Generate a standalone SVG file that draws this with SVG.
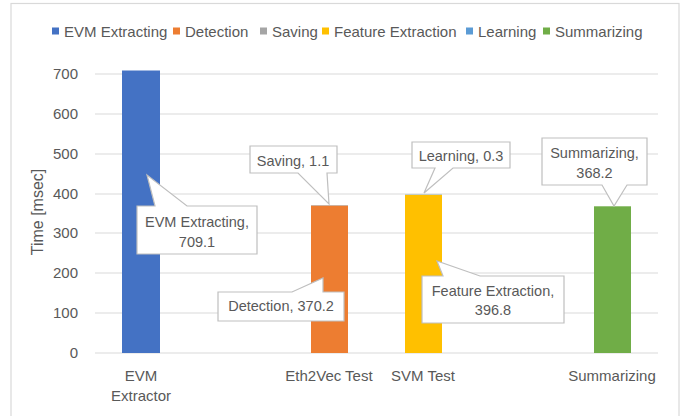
<svg xmlns="http://www.w3.org/2000/svg" width="687" height="416" viewBox="0 0 687 416">
<style>
text{font-family:"Liberation Sans",Arial,sans-serif;fill:#595959;}
.lg{font-size:15px;}
.tk{font-size:15px;text-anchor:end;}
.cat{font-size:15px;text-anchor:middle;}
.lbl{font-size:14.5px;text-anchor:middle;}
.grid{stroke:#d9d9d9;stroke-width:1;}
.co{fill:#ffffff;stroke:#bfbfbf;stroke-width:1.2;stroke-linejoin:miter;}
</style>
<rect x="0" y="0" width="687" height="416" fill="#ffffff"/>
<rect x="11" y="3.5" width="668" height="420" fill="#ffffff" stroke="#d9d9d9" stroke-width="1.2"/>
<g id="legend">
<rect x="52" y="27.5" width="7" height="7" fill="#4472c4"/><text class="lg" x="64" y="36.5">EVM Extracting</text>
<rect x="173" y="27.5" width="7" height="7" fill="#ed7d31"/><text class="lg" x="185" y="36.5">Detection</text>
<rect x="260" y="27.5" width="7" height="7" fill="#a5a5a5"/><text class="lg" x="272" y="36.5">Saving</text>
<rect x="322" y="27.5" width="7" height="7" fill="#ffc000"/><text class="lg" x="334" y="36.5">Feature Extraction</text>
<rect x="466" y="27.5" width="7" height="7" fill="#5b9bd5"/><text class="lg" x="478" y="36.5">Learning</text>
<rect x="543" y="27.5" width="7" height="7" fill="#70ad47"/><text class="lg" x="555" y="36.5">Summarizing</text>
</g>
<g id="grid">
<line class="grid" x1="95" y1="74" x2="658" y2="74"/>
<line class="grid" x1="95" y1="114" x2="658" y2="114"/>
<line class="grid" x1="95" y1="154" x2="658" y2="154"/>
<line class="grid" x1="95" y1="194" x2="658" y2="194"/>
<line class="grid" x1="95" y1="233" x2="658" y2="233"/>
<line class="grid" x1="95" y1="273" x2="658" y2="273"/>
<line class="grid" x1="95" y1="313" x2="658" y2="313"/>
<line class="grid" x1="95" y1="353" x2="658" y2="353"/>
</g>
<g id="axis">
<text class="tk" x="78" y="79">700</text>
<text class="tk" x="78" y="119">600</text>
<text class="tk" x="78" y="159">500</text>
<text class="tk" x="78" y="199">400</text>
<text class="tk" x="78" y="238">300</text>
<text class="tk" x="78" y="278">200</text>
<text class="tk" x="78" y="318">100</text>
<text class="tk" x="78" y="358">0</text>
<text x="0" y="0" font-size="16" text-anchor="middle" transform="translate(43,212) rotate(-90)">Time [msec]</text>
<text class="cat" x="141" y="381">EVM</text>
<text class="cat" x="141" y="401">Extractor</text>
<text class="cat" x="329" y="381">Eth2Vec Test</text>
<text class="cat" x="423" y="381">SVM Test</text>
<text class="cat" x="612" y="381">Summarizing</text>
</g>
<g id="bars">
<rect id="bar-evm" x="122" y="70.5" width="38" height="282.5" fill="#4472c4"/>
<rect id="bar-detection" x="311" y="205.5" width="37" height="147.5" fill="#ed7d31"/>
<rect id="bar-saving" x="311" y="205" width="37" height="0.5" fill="#a5a5a5"/>
<rect id="bar-feature" x="405" y="194.8" width="37" height="158.2" fill="#ffc000"/>
<rect id="bar-learning" x="405" y="194.5" width="37" height="0.3" fill="#5b9bd5"/>
<rect id="bar-summ" x="594" y="206.3" width="37" height="146.7" fill="#70ad47"/>
</g>
<g id="connectors">
<path class="co" d="M137,206 H155 L147,175 L187,206 H257 V254 H137 Z"/>
<path class="co" d="M250,146 H337 V173 H327 L329,204 L298,173 H250 Z"/>
<path class="co" d="M218,292 H292 L323,278 V292 H344 V321 H218 Z"/>
<path class="co" d="M412,142 H510 V168 H453 L424,193 L435,168 H412 Z"/>
<path class="co" d="M542,138 H647 V185 H627 L614,206 L602,185 H542 Z"/>
<path class="co" d="M422,276 H443 L437,261 L480,276 H564 V323 H422 Z"/>
</g>
<g id="label-evm"><text class="lbl" x="197" y="227">EVM Extracting,</text><text class="lbl" x="197" y="247">709.1</text></g>
<g id="label-saving"><text class="lbl" x="293" y="166">Saving, 1.1</text></g>
<g id="label-detection"><text class="lbl" x="281" y="311">Detection, 370.2</text></g>
<g id="label-learning"><text class="lbl" x="461" y="161">Learning, 0.3</text></g>
<g id="label-summ"><text class="lbl" x="594.5" y="158">Summarizing,</text><text class="lbl" x="594.5" y="178">368.2</text></g>
<g id="label-feature"><text class="lbl" x="493" y="296">Feature Extraction,</text><text class="lbl" x="493" y="315">396.8</text></g>
</svg>
